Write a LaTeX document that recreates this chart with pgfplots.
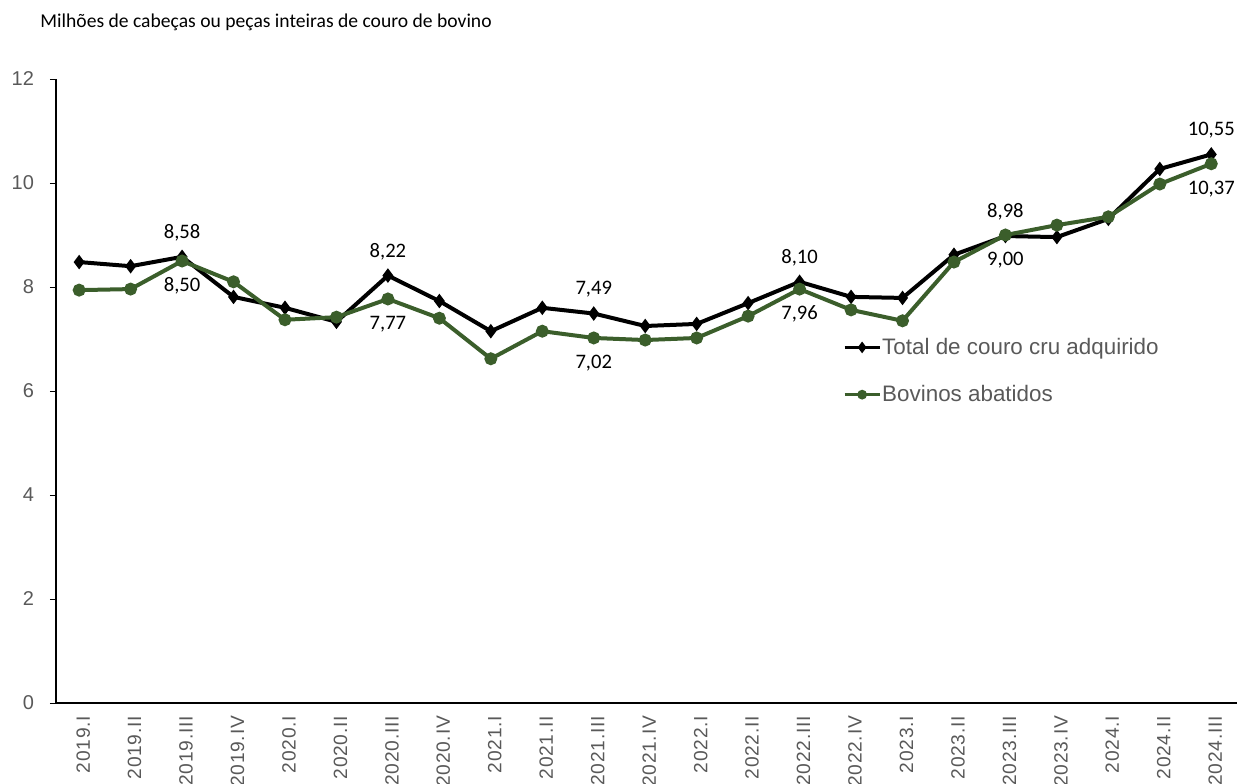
\documentclass[border=0pt]{standalone}
\usepackage{pgfplots}
\pgfplotsset{compat=1.18}
\usepackage{fontspec}
\setmainfont{Carlito}
\newfontfamily\arial{Liberation Sans}
\newfontfamily\arialsp[LetterSpace=4]{Liberation Sans}
\definecolor{bovino}{HTML}{3B5E2B}
\definecolor{rotulo}{HTML}{595959}

% Trimestre, total de couro cru adquirido, bovinos abatidos (milhoes)
\pgfplotstableread{
idx total bov
0  8.48 7.94
1  8.40 7.96
2  8.58 8.50
3  7.81 8.10
4  7.60 7.37
5  7.33 7.42
6  8.22 7.77
7  7.73 7.40
8  7.15 6.62
9  7.60 7.15
10 7.49 7.02
11 7.25 6.98
12 7.29 7.02
13 7.69 7.44
14 8.10 7.96
15 7.81 7.56
16 7.79 7.35
17 8.62 8.48
18 8.98 9.00
19 8.96 9.19
20 9.31 9.35
21 10.27 9.98
22 10.55 10.37
}\dados

\begin{document}
\begin{tikzpicture}
\useasboundingbox (-28pt,-40pt) rectangle (590.5pt,351.5pt);
\begin{axis}[
  at={(0,0)}, anchor=south west,
  scale only axis, width=590.5pt, height=312pt,
  xmin=-0.45, xmax=22.5, ymin=0, ymax=12,
  axis lines*=left,
  axis line style={black, line width=0.6pt},
  ytick={0,2,...,12},
  xtick={0,...,22},
  xticklabels={2019.I,2019.II,2019.III,2019.IV,2020.I,2020.II,2020.III,2020.IV,2021.I,2021.II,2021.III,2021.IV,2022.I,2022.II,2022.III,2022.IV,2023.I,2023.II,2023.III,2023.IV,2024.I,2024.II,2024.III},
  major x tick style={draw=none},
  tick align=outside,
  major tick length=3pt,
  y tick style={black, line width=0.5pt},
  /pgf/number format/assume math mode=true,
  y tick label style={font=\arial\fontsize{10}{11}\selectfont, text=rotulo, xshift=-4.5pt},
  x tick label style={font=\arialsp\fontsize{9.6}{10}\selectfont, text=rotulo,
    rotate=90, anchor=east, yshift=-2pt},
  legend style={at={(0.661,0.532)}, anchor=west, draw=none, fill=none,
    font=\arial\fontsize{11.2}{12}\selectfont, text=rotulo,
    row sep=13pt, column sep=0pt, nodes={inner sep=0.5pt}},
  legend cell align=left,
  legend image code/.code={%
    \draw[#1, line width=1.6pt, mark repeat=2, mark phase=2, mark size=1.6pt] plot coordinates {(0pt,0pt) (8.75pt,0pt) (17.5pt,0pt)};},
]
\addplot[black, line width=2pt, mark=diamond*, mark size=2pt] table[x=idx,y=total]{\dados};
\addplot[bovino, line width=2pt, mark=*, mark size=2.2pt] table[x=idx,y=bov]{\dados};
\legend{Total de couro cru adquirido, Bovinos abatidos}

% rotulos de valor
\addplot[draw=none, forget plot, point meta=y,
  nodes near coords={\pgfmathprintnumber[use comma,fixed,fixed zerofill,precision=2,assume math mode=true]{\pgfplotspointmeta}},
  nodes near coords style={anchor=center, yshift=12pt, font=\fontsize{10.3}{12}\selectfont, text=black}]
  coordinates {(2,8.58) (6,8.22) (10,7.49) (14,8.10) (18,8.98) (22,10.55)};
\addplot[draw=none, forget plot, point meta=y,
  nodes near coords={\pgfmathprintnumber[use comma,fixed,fixed zerofill,precision=2,assume math mode=true]{\pgfplotspointmeta}},
  nodes near coords style={anchor=center, yshift=-12.5pt, font=\fontsize{10.3}{12}\selectfont, text=black}]
  coordinates {(2,8.50) (6,7.77) (10,7.02) (14,7.96) (18,9.00) (22,10.37)};
\end{axis}
\node[anchor=west, inner sep=0pt, font=\fontsize{9.8}{11}\selectfont] at (-8pt,340.5pt) {Milhões de cabeças ou peças inteiras de couro de bovino};
\end{tikzpicture}
\end{document}
